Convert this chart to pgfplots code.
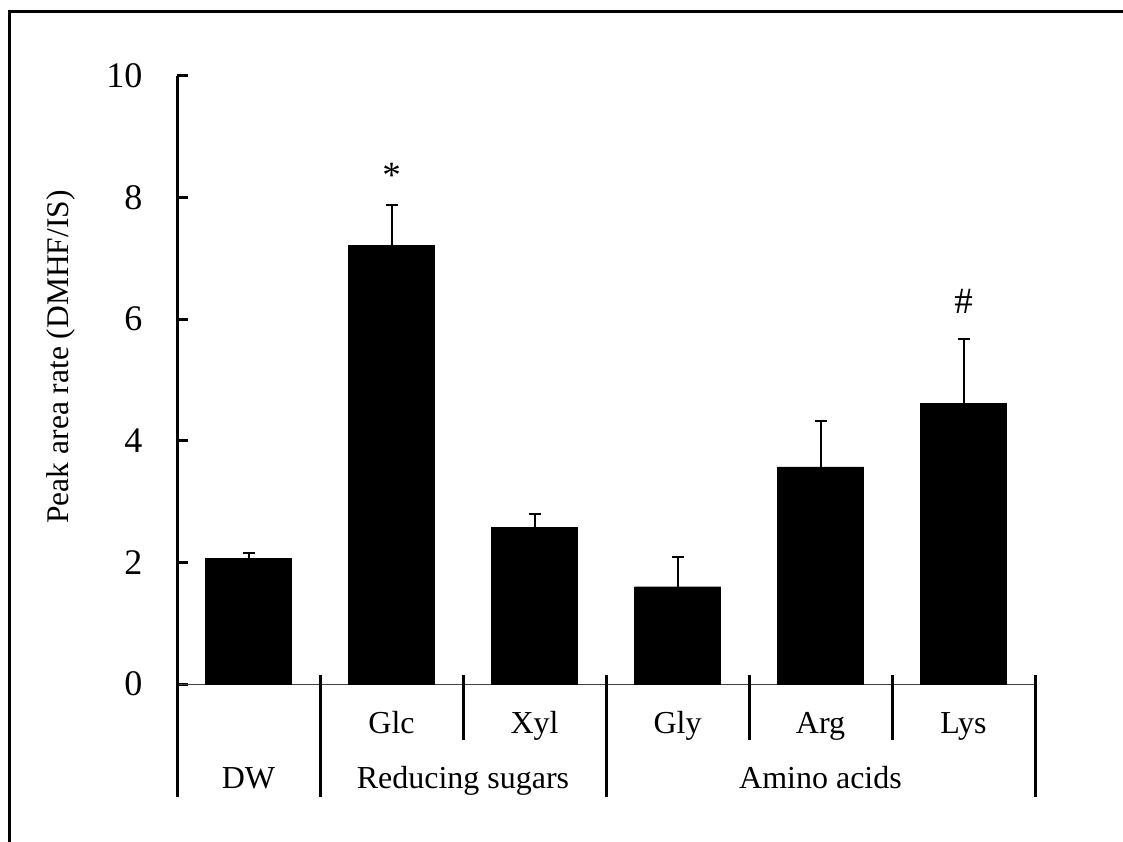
\documentclass[border=0pt]{standalone}
\usepackage{pgfplots}
\pgfplotsset{compat=1.18}
\usepackage{fontspec}
\setmainfont{Liberation Serif}

% Peak area rate of DMHF relative to internal standard, mean + SD
\pgfplotstableread{
x y e
0 2.07 0.08
1 7.21 0.67
2 2.58 0.22
3 1.60 0.49
4 3.57 0.76
5 4.62 1.05
}\peakdata

\newcommand\bigfont{\fontsize{32}{38}\selectfont}
\newcommand\markfont{\fontsize{37}{44}\selectfont}

\begin{document}
\begin{tikzpicture}[x=1pt,y=1pt]
\useasboundingbox (0,0) rectangle (1123,841);
% outer frame (top and left edges)
\draw[line width=3pt] (9.5,-20) -- (9.5,829.5) -- (1150,829.5);
\begin{axis}[
  at={(177pt,157pt)}, anchor=south west,
  scale only axis, width=858pt, height=608pt,
  xmin=-0.5, xmax=5.5, ymin=0, ymax=10,
  axis lines=left,
  axis line style={-},
  x axis line style={line width=1pt, black!75},
  y axis line style={line width=3pt, black},
  ytick={0,2,...,10}, xtick=\empty,
  tick align=inside, major tick length=11pt,
  ytick style={line width=3pt, black},
  yticklabel style={font=\fontsize{36}{42}\selectfont, xshift=-31pt},
  /pgf/number format/assume math mode=true,
  ybar, bar width=86pt,
  clip=false,
]
\addplot[fill=black, draw=black,
  error bars/.cd, y dir=plus, y explicit,
  error bar style={line width=2pt, black},
  error mark options={rotate=90, mark size=6pt, line width=2pt, black}]
  table[x=x, y=y, y error=e] {\peakdata};

% significance marks
\node[anchor=north, inner sep=0pt, font=\markfont] at (axis cs:1,8.57) {*};
\node[anchor=base, inner sep=0pt, font=\markfont] at (axis cs:5,6.10) {\#};

% category separators below the axis
\draw[line width=3pt] (axis cs:-0.5,0) -- ([yshift=-113pt]axis cs:-0.5,0);
\draw[line width=3pt] ([yshift=9pt]axis cs:0.5,0) -- ([yshift=-113pt]axis cs:0.5,0);
\draw[line width=3pt] ([yshift=9pt]axis cs:2.5,0) -- ([yshift=-113pt]axis cs:2.5,0);
\draw[line width=3pt] ([yshift=9pt]axis cs:5.5,0) -- ([yshift=-113pt]axis cs:5.5,0);
\draw[line width=3pt] ([yshift=9pt]axis cs:1.5,0) -- ([yshift=-56pt]axis cs:1.5,0);
\draw[line width=3pt] ([yshift=9pt]axis cs:3.5,0) -- ([yshift=-56pt]axis cs:3.5,0);
\draw[line width=3pt] ([yshift=9pt]axis cs:4.5,0) -- ([yshift=-56pt]axis cs:4.5,0);

% first row of category labels
\node[anchor=base, font=\bigfont, yshift=-49pt] at (axis cs:1,0) {Glc};
\node[anchor=base, font=\bigfont, yshift=-49pt] at (axis cs:2,0) {Xyl};
\node[anchor=base, font=\bigfont, yshift=-49pt] at (axis cs:3,0) {Gly};
\node[anchor=base, font=\bigfont, yshift=-49pt] at (axis cs:4,0) {Arg};
\node[anchor=base, font=\bigfont, yshift=-49pt] at (axis cs:5,0) {Lys};
% second row of group labels
\node[anchor=base, font=\bigfont, yshift=-104pt] at (axis cs:0,0) {DW};
\node[anchor=base, font=\bigfont, yshift=-104pt] at (axis cs:1.5,0) {Reducing sugars};
\node[anchor=base, font=\bigfont, yshift=-104pt] at (axis cs:4,0) {Amino acids};

% y-axis title
\node[rotate=90, font=\fontsize{31.5}{37}\selectfont] at ([xshift=-116pt]axis cs:-0.5,5.38) {Peak area rate (DMHF/IS)};
\end{axis}
\end{tikzpicture}
\end{document}
